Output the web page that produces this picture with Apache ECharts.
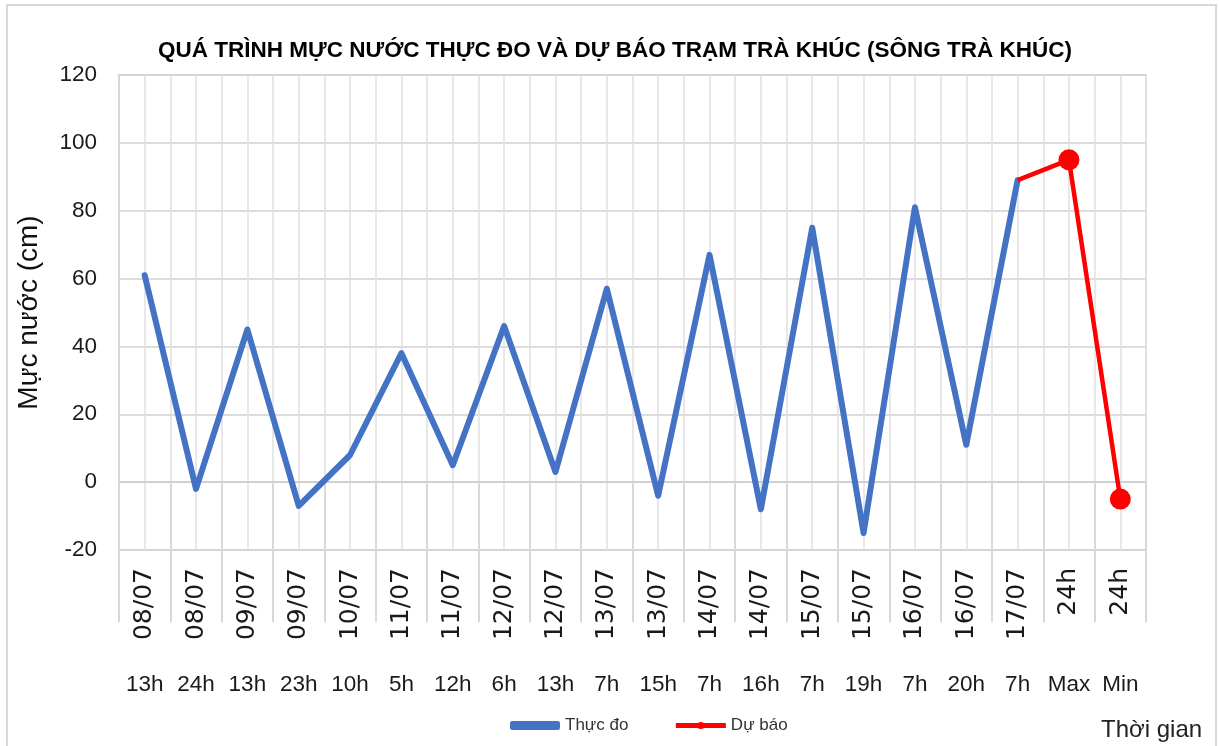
<!DOCTYPE html>
<html>
<head>
<meta charset="utf-8">
<title>Mực nước Trà Khúc</title>
<script src="https://cdn.jsdelivr.net/npm/echarts@6/dist/echarts.min.js"></script>
<style>
	html, body { margin: 0; padding: 0; background: #fff; }
	#chart { width: 1219px; height: 746px; }
</style>
</head>
<body>
<div id="chart"></div>
<script>
//nhãn trục hoành: ngày (dòng trên) và giờ (dòng dưới)
var dayLabels = ['08/07', '08/07', '09/07', '09/07', '10/07', '11/07', '11/07', '12/07', '12/07', '13/07',
	'13/07', '14/07', '14/07', '15/07', '15/07', '16/07', '16/07', '17/07', '24h', '24h'];
var hourLabels = ['13h', '24h', '13h', '23h', '10h', '5h', '12h', '6h', '13h', '7h',
	'15h', '7h', '16h', '7h', '19h', '7h', '20h', '7h', 'Max', 'Min'];
//mực nước thực đo (cm)
var observed = [61, -2, 45, -7, 8, 38, 5, 46, 3, 57, -4, 67, -8, 75, -15, 81, 11, 89];
//dự báo: bắt đầu từ điểm thực đo cuối cùng
var forecast = [89, 95, -5];
var forecastStart = 17;
//trục tung
var yTicks = { min: -20, max: 120, step: 20 };

var sans = 'Liberation Sans, Arial, sans-serif';
var wide = 'DejaVu Sans, Verdana, sans-serif';

function padSeries(arr, start, total) {
	var out = [];
	for (var i = 0; i < total; i++) {
		var k = i - start;
		out.push(k >= 0 && k < arr.length ? arr[k] : null);
	}
	return out;
}

var n = dayLabels.length;
var obsData = padSeries(observed, 0, n);
var fcData = padSeries(forecast, forecastStart, n);

var chart = echarts.init(document.getElementById('chart'));
var option = {
	backgroundColor: '#fff',
	animation: false,
	title: [{
		text: 'QUÁ TRÌNH MỰC NƯỚC THỰC ĐO VÀ DỰ BÁO TRẠM TRÀ KHÚC (SÔNG TRÀ KHÚC)',
		left: 610,
		textAlign: 'center',
		top: 34,
		textStyle: { fontFamily: sans, fontWeight: 'bold', fontSize: 22.5, color: '#000' }
	}, {
		text: 'Thời gian',
		left: 1096,
		top: 713,
		textStyle: { fontFamily: sans, fontWeight: 'normal', fontSize: 24, color: '#222' }
	}],
	graphic: [{
		type: 'rect',
		shape: { x: 7, y: 5, width: 1209, height: 760 },
		style: { fill: null, stroke: '#d9d9d9', lineWidth: 2 },
		silent: true
	}],
	legend: {
		left: 505,
		top: 712,
		itemWidth: 50,
		itemHeight: 9,
		itemGap: 45,
		textStyle: { fontFamily: sans, fontSize: 17, color: '#333' },
		data: [
			{ name: 'Thực đo', icon: 'roundRect' },
			{ name: 'Dự báo', lineStyle: { width: 5 } }
		]
	},
	grid: {
		left: 119,
		top: 75,
		width: 1027,
		height: 475,
		show: true,
		borderColor: '#d4d4d4',
		borderWidth: 1.5
	},
	xAxis: [{
		type: 'category',
		data: dayLabels,
		boundaryGap: true,
		position: 'bottom',
		axisLine: { show: true, lineStyle: { color: '#d0d0d0', width: 2 } },
		axisTick: { show: true, interval: 0, length: 140, lineStyle: { color: '#d9d9d9', width: 2 } },
		axisLabel: {
			interval: 0,
			rotate: 90,
			margin: 18,
			fontFamily: wide,
			fontSize: 25,
			color: '#1a1a1a'
		},
		splitLine: { show: false }
	}, {
		type: 'category',
		data: hourLabels,
		boundaryGap: true,
		position: 'bottom',
		axisLine: { show: false },
		axisTick: { show: false },
		axisLabel: {
			interval: 0,
			margin: 123,
			fontFamily: sans,
			fontSize: 22.5,
			color: '#1a1a1a'
		},
		splitLine: { show: false }
	}, {
		//chỉ dùng để vẽ các đường lưới dọc (mỗi nửa ô)
		type: 'value',
		min: 0,
		max: n * 2,
		interval: 1,
		position: 'top',
		axisLine: { show: false },
		axisTick: { show: false },
		axisLabel: { show: false },
		splitLine: { show: true, lineStyle: { color: '#e0e0e0', width: 1.5 } }
	}],
	yAxis: {
		type: 'value',
		min: yTicks.min,
		max: yTicks.max,
		interval: yTicks.step,
		name: 'Mực nước (cm)',
		nameLocation: 'middle',
		nameGap: 76,
		nameTextStyle: { fontFamily: sans, fontSize: 28, color: '#111' },
		axisLine: { show: true, lineStyle: { color: '#d4d4d4', width: 1.5 } },
		axisTick: { show: false },
		axisLabel: { margin: 22, fontFamily: sans, fontSize: 22.5, color: '#1a1a1a' },
		splitLine: { show: true, lineStyle: { color: '#d0d0d0', width: 1.5 } }
	},
	series: [{
		name: 'Thực đo',
		type: 'line',
		xAxisIndex: 0,
		data: obsData,
		symbol: 'none',
		itemStyle: { color: '#4472c4' },
		lineStyle: { color: '#4472c4', width: 6, cap: 'round', join: 'round' },
		z: 3
	}, {
		name: 'Dự báo',
		type: 'line',
		xAxisIndex: 0,
		data: fcData,
		symbol: 'circle',
		symbolSize: function (val, params) {
			return params.dataIndex === forecastStart ? 0 : 21;
		},
		showAllSymbol: true,
		itemStyle: { color: '#ff0000' },
		lineStyle: { color: '#ff0000', width: 4.5 },
		z: 4
	}]
};
chart.setOption(option);
</script>
</body>
</html>
